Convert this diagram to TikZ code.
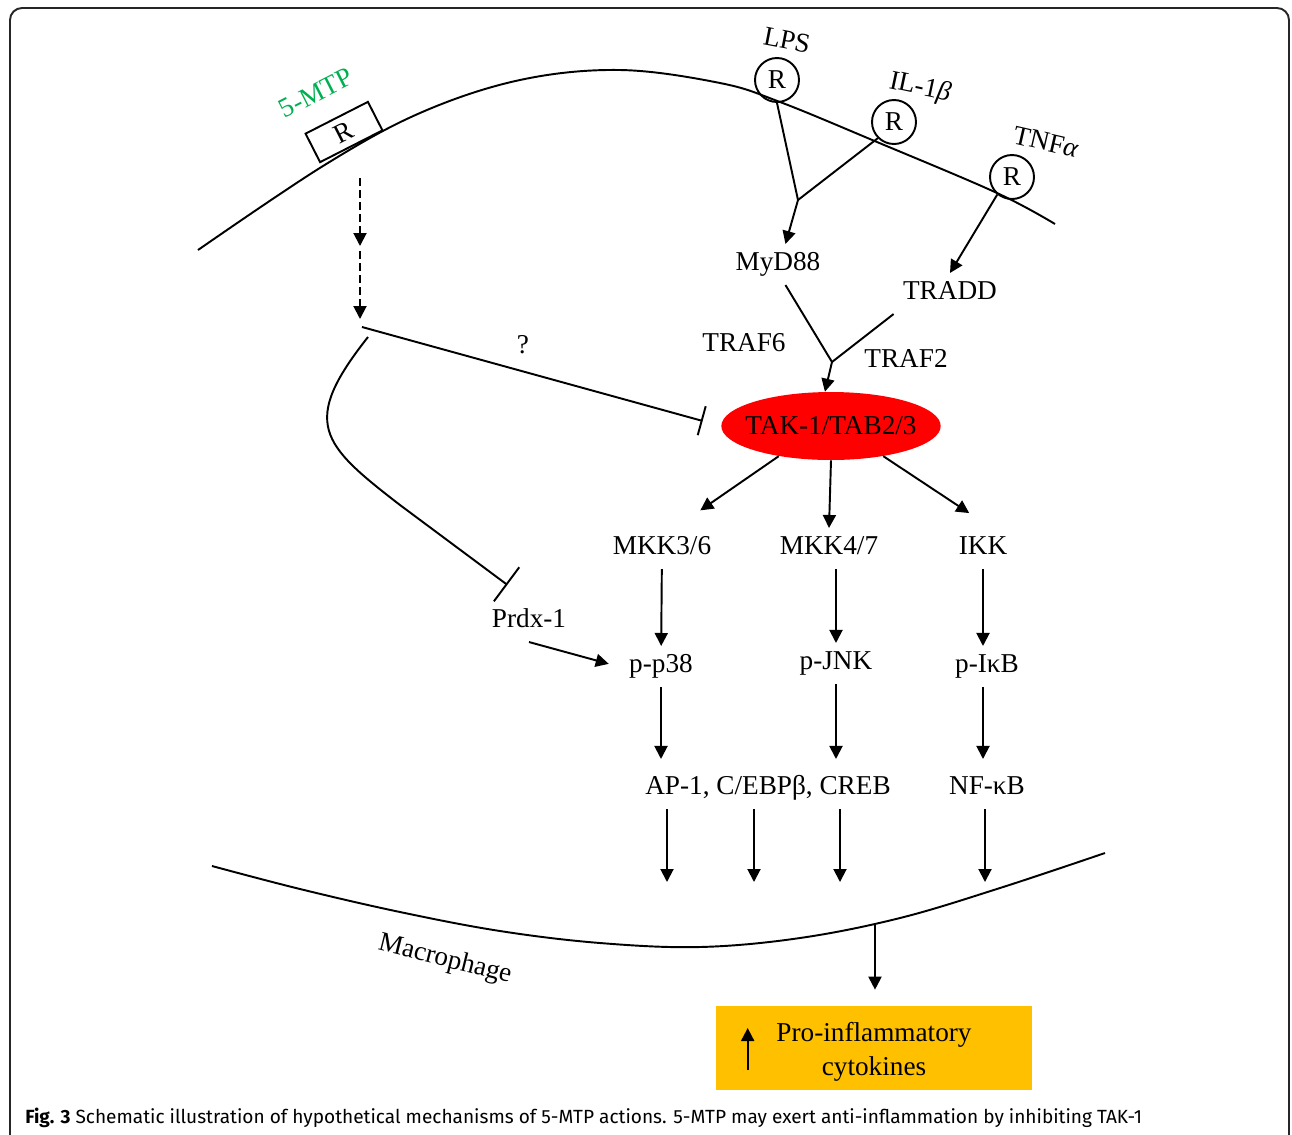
\documentclass[tikz,border=0pt]{standalone}
\usepackage{fontspec}
\setmainfont{Liberation Serif}
\newfontfamily\capfont{Fira Sans}
\usetikzlibrary{arrows.meta,shapes.geometric}
\definecolor{mtpgreen}{RGB}{0,176,80}
\definecolor{cytoyellow}{RGB}{255,192,0}
\definecolor{takred}{RGB}{255,0,0}

\begin{document}
\begin{tikzpicture}[x=0.02cm, y=-0.02cm,
  txt/.style={font=\fontsize{15.5}{18}\selectfont, inner sep=0.21cm,
    text height=2.0ex, text depth=0.4ex, yshift=-0.05cm},
  lab/.style={font=\fontsize{15.5}{18}\selectfont, inner sep=0pt},
  rcirc/.style={draw, circle, line width=1.1pt, minimum size=0.88cm,
    inner sep=0pt, font=\fontsize{15.5}{18}\selectfont},
  arr/.style={line width=1.1pt, -{Triangle[length=0.26cm, width=0.26cm]}},
  darr/.style={arr, dash pattern=on 0.16cm off 0.08cm},
  inh/.style={line width=1.1pt, -{Bar[width=0.6cm, line width=1.1pt]}},
  mem/.style={line width=1.1pt}]
  \useasboundingbox (0,0) rectangle (1292,1134);
  \clip (0,0) rectangle (1292,1134);

  % frame
  \draw[line width=1.1pt, rounded corners=0.24cm, black!85] (10,8) rectangle (1289,1170);

  % cell membranes
  \draw[mem] plot[smooth, tension=0.6] coordinates {(198,250) (323,166) (420,113)
    (520,80) (620,70) (720,83) (780,102) (877,142) (997,193) (1055,224)};
  \draw[mem] plot[smooth, tension=0.6] coordinates {(212,866) (300,889) (400,912)
    (500,931) (600,943) (700,947) (800,938) (900,918) (1000,888) (1105,853)};
  \node[lab, rotate=-14] (MAC) at (445,960) {Macrophage};

  % receptors
  \node[draw, line width=1.1pt, rotate=27, minimum width=1.4cm, minimum height=0.64cm,
    font=\fontsize{15.5}{18}\selectfont] (RMTP) at (344,132) {R};
  \node[lab, text=mtpgreen, rotate=27] (MTP) at (316,93) {5-MTP};
  \node[rcirc] (RLPS) at (777,80) {R};
  \node[lab, rotate=-11] (LPS) at (787,40) {LPS};
  \node[lab, rotate=-12] (IL) at (920,88) {IL-1\textit{β}};
  \node[rcirc] (RIL) at (894,122) {R};
  \node[rcirc] (RTNF) at (1012,177) {R};
  \node[lab, rotate=-13] (TNF) at (1046,142) {TNF\textit{α}};

  % adaptors
  \node[txt] (MyD88) at (778,262) {MyD88};
  \node[txt] (TRADD) at (950,291) {TRADD};
  \node[txt] (TRAF6) at (744,343) {TRAF6};
  \node[txt] (TRAF2) at (906,359) {TRAF2};
  \node[ellipse, fill=takred, minimum width=4.36cm, minimum height=1.36cm,
    inner xsep=-0.16cm, inner ysep=0pt,
    font=\fontsize{15.5}{18}\selectfont] (TAK) at (831,426) {TAK-1/TAB2/3};

  % kinases and factors
  \node[txt] (MKK36) at (662,546) {MKK3/6};
  \node[txt] (MKK47) at (829,546) {MKK4/7};
  \node[txt] (IKK) at (983,546) {IKK};
  \node[txt] (Prdx) at (529,619) {Prdx-1};
  \node[txt] (pp38) at (661,664) {p-p38};
  \node[txt] (pJNK) at (836,661) {p-JNK};
  \node[txt] (pIkB) at (987,664) {p-IκB};
  \node[txt] (TF) at (768,786) {AP-1, C/EBPβ, CREB};
  \node[txt] (NFkB) at (987,786) {NF-κB};
  \node[fill=cytoyellow, minimum width=6.32cm, minimum height=1.68cm] (PIC) at (874,1048) {};
  \node[align=center, font=\fontsize{15.5}{19.2}\selectfont] (PICtxt) at (874,1052)
    {Pro-inflammatory\\cytokines};
  \node[lab] (Q) at (523,345) {?};

  \coordinate (j1) at (798,200);
  \coordinate (j2) at (832,362);
  \coordinate (d0) at (360,178);
  \coordinate (d1) at (360,246);
  \coordinate (d2) at (360,251);
  \coordinate (d3) at (360,319);
  \coordinate (i1) at (362,327);
  \coordinate (c1) at (368,337);
  \coordinate (m1) at (667,882);
  \coordinate (m2) at (754,882);
  \coordinate (m3) at (840,882);
  \coordinate (m4) at (985,882);
  \coordinate (mo) at (875,925);

  % receptor signalling
  \draw[mem] (RLPS.south) -- (j1);
  \draw[mem] (RIL.225) -- (j1);
  \draw[arr] (j1) -- (MyD88.70);
  \draw[arr] (RTNF.230) -- (TRADD.north);
  \draw[mem] (MyD88.-70) -- (j2);
  \draw[mem] (TRADD.200) -- (j2);
  \draw[arr] (j2) -- (TAK.100);

  % 5-MTP actions
  \draw[darr] (d0) -- (d1);
  \draw[darr] (d2) -- (d3);
  \draw[inh, shorten >=0.38cm] (i1) -- (TAK.west);
  \draw[line width=1.1pt, -{Bar[width=0.85cm, line width=1.1pt]}, shorten >=0.54cm]
    (c1) .. controls (300,423) and (321,444) .. (400,505) -- (Prdx.north);

  % TAK-1 downstream
  \draw[arr, shorten >=0.62cm] (TAK.210) -- (MKK36.58);
  \draw[arr] (TAK.south) -- (MKK47.north);
  \draw[arr, shorten >=0.54cm] (TAK.-30) -- (IKK.67);
  \draw[arr] (MKK36) -- (pp38);
  \draw[arr] (MKK47.south -| pJNK) -- (pJNK);
  \draw[arr] (IKK) -- (IKK |- pIkB.north);
  \draw[arr, shorten >=0.2cm] (Prdx.south) -- (pp38.west);
  \draw[arr, shorten >=0.18cm] (pp38) -- (pp38 |- TF.north);
  \draw[arr, shorten >=0.18cm] (pJNK) -- (pJNK |- TF.north);
  \draw[arr, shorten >=0.18cm] (IKK |- pIkB.south) -- (IKK |- NFkB.north);
  \draw[arr] (m1 |- TF.south) -- (m1);
  \draw[arr] (m2 |- TF.south) -- (m2);
  \draw[arr] (m3 |- TF.south) -- (m3);
  \draw[arr] (m4 |- NFkB.south) -- (m4);
  \draw[arr, shorten >=0.32cm] (mo) -- (mo |- PIC.north);
  \draw[arr] ([shift={(32,22)}]PIC.west) -- ([shift={(32,-20)}]PIC.west);

  % caption
  \node[anchor=west, inner sep=0pt, font=\capfont\fontsize{10.85}{13}\selectfont] (CAP)
    at (25,1118) {\textbf{Fig. 3} Schematic illustration of hypothetical mechanisms of
    5-MTP actions. 5-MTP may exert anti-inflammation by inhibiting TAK-1};
\end{tikzpicture}
\end{document}
